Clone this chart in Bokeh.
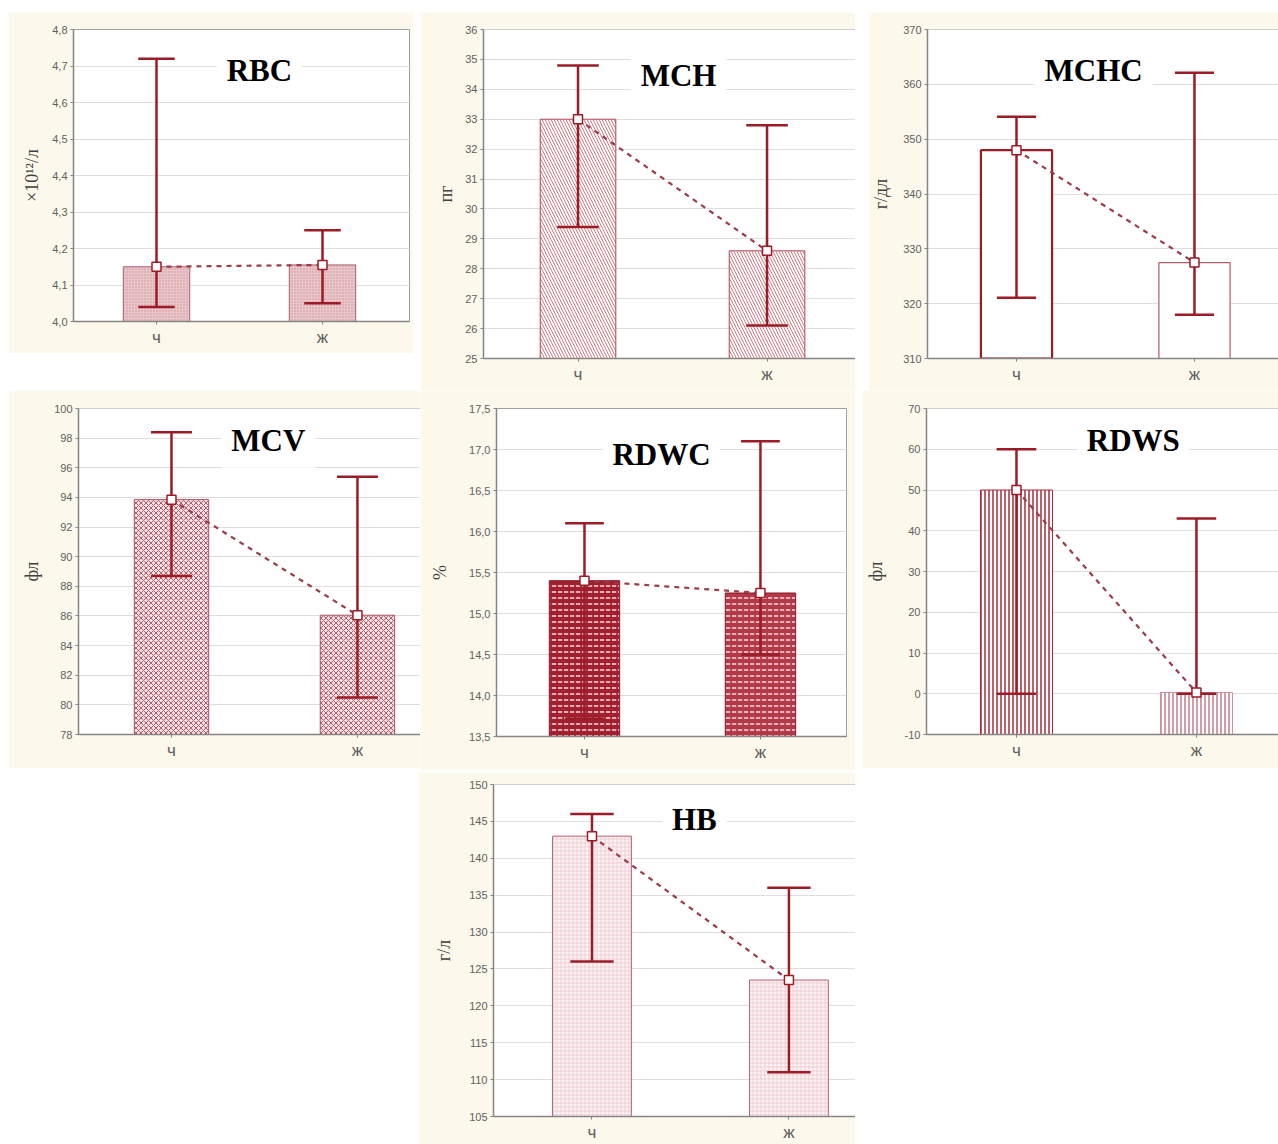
from bokeh.plotting import figure
from bokeh.layouts import row, column, Spacer
from bokeh.models import FixedTicker, CustomJSTickFormatter, Label, Span
from bokeh.embed import file_html
from bokeh.resources import INLINE

# ---------------- data ----------------
groups = ["ч", "ж"]
group_pos = [0, 1]

rbc_mean = [4.15, 4.155]
rbc_low = [4.04, 4.05]
rbc_high = [4.72, 4.25]
rbc_ticks = [4.0, 4.1, 4.2, 4.3, 4.4, 4.5, 4.6, 4.7, 4.8]

mch_mean = [33.0, 28.6]
mch_low = [29.4, 26.1]
mch_high = [34.8, 32.8]
mch_ticks = [25, 26, 27, 28, 29, 30, 31, 32, 33, 34, 35, 36]

mchc_mean = [348.0, 327.5]
mchc_low = [321.1, 318.0]
mchc_high = [354.1, 362.1]
mchc_ticks = [310, 320, 330, 340, 350, 360, 370]

mcv_mean = [93.85, 86.05]
mcv_low = [88.7, 80.5]
mcv_high = [98.4, 95.4]
mcv_ticks = [78, 80, 82, 84, 86, 88, 90, 92, 94, 96, 98, 100]

rdwc_mean = [15.4, 15.25]
rdwc_low = [13.72, 14.5]
rdwc_high = [16.1, 17.1]
rdwc_ticks = [13.5, 14.0, 14.5, 15.0, 15.5, 16.0, 16.5, 17.0, 17.5]

rdws_mean = [50.0, 0.3]
rdws_low = [0.0, 0.0]
rdws_high = [60.0, 43.0]
rdws_ticks = [-10, 0, 10, 20, 30, 40, 50, 60, 70]

hb_mean = [143.0, 123.5]
hb_low = [126.0, 111.0]
hb_high = [146.0, 136.0]
hb_ticks = [105, 110, 115, 120, 125, 130, 135, 140, 145, 150]

# ---------------- style ----------------
CREAM = "#fdf8ec"
DARK = "#9b1b26"
DASH = "#9b3a48"
AXIS = "#858585"
TICKTXT = "#606060"


def panel(title, unit, mean, low, high, ticks, decimals, w, h, L, R, T, B, xend,
          title_xy, bar_style, outline=False, standoff=8):
    y0, y1 = ticks[0], ticks[-1]
    p = figure(width=w, height=h, x_range=(-0.5, xend), y_range=(y0, y1),
               output_backend="svg", toolbar_location=None,
               min_border_left=L, min_border_right=R, min_border_top=T,
               min_border_bottom=B, background_fill_color="white",
               border_fill_color=CREAM)
    p.outline_line_color = "#a0a0a0" if outline else None
    if not outline:
        p.add_layout(Span(location=y1, dimension="width", line_color="#a0a0a0", line_width=1))
    p.xgrid.visible = False
    p.ygrid.grid_line_color = "#dedede"
    p.ygrid.grid_line_width = 1

    # axes
    p.xaxis.ticker = FixedTicker(ticks=group_pos)
    p.xaxis.major_label_overrides = {i: g for i, g in zip(group_pos, groups)}
    p.yaxis.ticker = FixedTicker(ticks=ticks)
    p.yaxis.formatter = CustomJSTickFormatter(
        code="return tick.toFixed(%d).replace('.', ',');" % decimals)
    for ax in (p.xaxis, p.yaxis):
        ax.axis_line_color = AXIS
        ax.axis_line_width = 1.5
        ax.major_tick_line_color = AXIS
        ax.major_tick_in = 0
        ax.major_tick_out = 3
        ax.minor_tick_line_color = None
        ax.major_label_text_color = TICKTXT
        ax.major_label_text_font = "Liberation Sans"
        ax.major_label_standoff = 3
    p.yaxis.major_label_text_font_size = "11px"
    p.xaxis.major_label_text_font_size = "17px"
    p.yaxis.axis_label = unit
    p.yaxis.axis_label_text_font = "Liberation Serif"
    p.yaxis.axis_label_text_font_style = "normal"
    p.yaxis.axis_label_text_font_size = "18px"
    p.yaxis.axis_label_text_color = "#404040"
    p.yaxis.axis_label_standoff = standoff

    # bars
    p.vbar(x=group_pos, top=mean, bottom=y0, width=0.4, **bar_style)
    # dashed connecting line
    p.line(x=group_pos, y=mean, line_color=DASH, line_width=2.2, line_dash="5 5")
    # error bars
    p.segment(x0=group_pos, y0=low, x1=group_pos, y1=high, line_color=DARK, line_width=2.5)
    capl = [x - 0.11 for x in group_pos]
    capr = [x + 0.11 for x in group_pos]
    p.segment(x0=capl, y0=high, x1=capr, y1=high, line_color=DARK, line_width=2.5)
    p.segment(x0=capl, y0=low, x1=capr, y1=low, line_color=DARK, line_width=2.5)
    # mean markers
    p.scatter(x=group_pos, y=mean, marker="square", size=9, fill_color="white",
              line_color=DARK, line_width=1.5)

    p.add_layout(Label(x=title_xy[0], y=title_xy[1], text=title,
                       text_font="Liberation Serif", text_font_style="bold",
                       text_font_size="31px", text_color="black",
                       text_align="center", text_baseline="middle",
                       background_fill_color="white", padding=10))
    return p


p1 = panel("RBC", "×10¹²/л", rbc_mean, rbc_low, rbc_high, rbc_ticks, 1,
           405, 341, 65, 4, 15, 29, 1.524, (0.62, 4.687),
           dict(fill_color="#e9c6c9", hatch_pattern="dot", hatch_color="#cf8f98",
                hatch_scale=3, line_color="#a86070", line_width=1),
           outline=True, standoff=7)

p2 = panel("MCH", "пг", mch_mean, mch_low, mch_high, mch_ticks, 0,
           435, 378, 63, 0, 16, 32, 1.468, (0.532, 34.47),
           dict(fill_color="white", hatch_pattern="left_diagonal_line",
                hatch_color="#d27880", hatch_scale=6, hatch_weight=1,
                line_color="#b04858", line_width=1), standoff=6)

p3 = panel("MCHC", "г/дл", mchc_mean, mchc_low, mchc_high, mchc_ticks, 0,
           410, 378, 55, 0, 17, 32, 1.472, (0.433, 362.5),
           dict(fill_color="white", line_color=["#9b1b26", "#b05a66"],
                line_width=[2.2, 1.2]), standoff=9)

p4 = panel("MCV", "фл", mcv_mean, mcv_low, mcv_high, mcv_ticks, 0,
           412, 378, 70, 0, 18, 32, 1.339, (0.521, 97.85),
           dict(fill_color="#f6e2e4", hatch_pattern="diagonal_cross",
                hatch_color="#b85868", hatch_scale=5, hatch_weight=1,
                line_color="#a85060", line_width=1), standoff=9)

p5 = panel("RDWC", "%", rdwc_mean, rdwc_low, rdwc_high, rdwc_ticks, 1,
           435, 380, 76, 9, 18, 34, 1.489, (0.4375, 16.94),
           dict(fill_color=["#a0202f", "#b23a48"], hatch_pattern="horizontal_dash",
                hatch_color="#f6d6da", hatch_scale=6, hatch_weight=1.5,
                line_color="#8a1a26", line_width=1),
           outline=True, standoff=16)

p6 = panel("RDWS", "фл", rdws_mean, rdws_low, rdws_high, rdws_ticks, 0,
           416, 378, 62, 0, 18, 31, 1.456, (0.649, 62.2),
           dict(fill_color="white", hatch_pattern="vertical_line",
                hatch_color=["#a52a3a", "#c27c88"], hatch_scale=4, hatch_weight=1.5,
                line_color=["#a52a3a", "#c9909a"], line_width=1), standoff=16)

p7 = panel("HB", "г/л", hb_mean, hb_low, hb_high, hb_ticks, 0,
           437, 372, 75, 0, 12, 25, 1.338, (0.52, 145.3),
           dict(fill_color="#fdf3f5", hatch_pattern="cross",
                hatch_color="#e8c2c8", hatch_scale=4, hatch_weight=0.7,
                line_color="#b06070", line_width=1), standoff=12)

row1 = row(Spacer(width=8), p1, Spacer(width=7), p2, Spacer(width=13), p3)
row2 = row(Spacer(width=8), p4, p5, Spacer(width=7), p6)
row3 = row(Spacer(width=418), column(Spacer(height=2), p7))
layout = column(Spacer(height=12), row1, row2, row3)

open("out.html", "w").write(file_html(layout, INLINE))
